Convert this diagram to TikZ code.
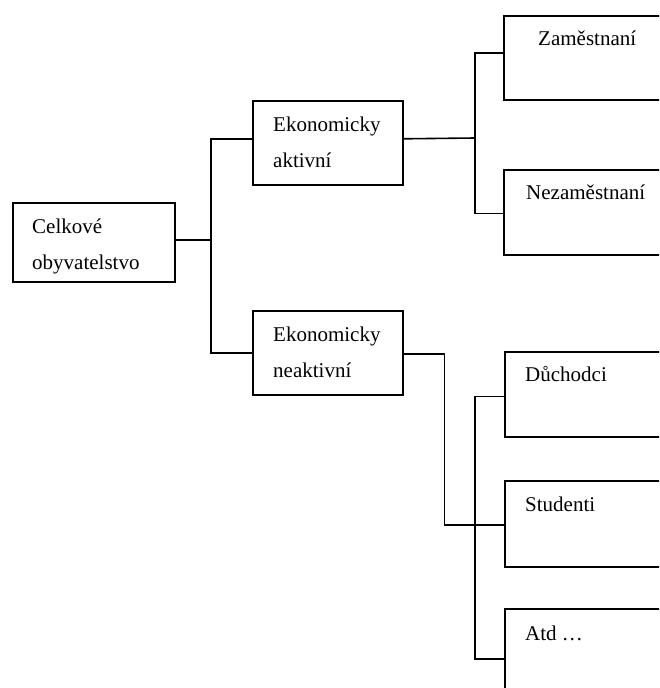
\documentclass[tikz,border=0pt]{standalone}
\usepackage{fontspec}
\setmainfont{Liberation Serif}
\usetikzlibrary{positioning}
\tikzset{
  box/.style={draw, line width=1.6pt, anchor=north west, inner sep=0pt},
  txt/.style={anchor=base west, inner sep=0pt, align=left, font=\fontsize{21}{36}\selectfont},
  conn/.style={line width=1.6pt}
}
\begin{document}
\begin{tikzpicture}[x=1pt,y=-1pt]
\useasboundingbox (0,0) rectangle (659,688);
\clip (0,0) rectangle (659,688);
% boxes
\node[box, minimum width=162pt, minimum height=79pt] (celk) at (12,202) {};
\node[box, minimum width=150pt, minimum height=84pt] (aktiv) at (252,100) {};
\node[box, minimum width=150pt, minimum height=84pt] (neakt) at (252,310) {};
\node[box, minimum width=200pt, minimum height=84pt] (zam) at (503,15) {};
\node[box, minimum width=200pt, minimum height=85pt] (nezam) at (503,169) {};
\node[box, minimum width=200pt, minimum height=85pt] (duch) at (504,351) {};
\node[box, minimum width=200pt, minimum height=86pt] (stud) at (504,480) {};
\node[box, minimum width=200pt, minimum height=100pt] (atd) at (504,608) {};
% texts (base = last line)
\node[txt] (celk-t) at ([shift={(20,67)}]celk.north west) {Celkové\\obyvatelstvo};
\node[txt] (aktiv-t) at ([shift={(21,67)}]aktiv.north west) {Ekonomicky\\aktivní};
\node[txt] (neakt-t) at ([shift={(21,67)}]neakt.north west) {Ekonomicky\\neaktivní};
\node[txt] (zam-t) at ([shift={(35,30)}]zam.north west) {Zaměstnaní};
\node[txt] (nezam-t) at ([shift={(23,30)}]nezam.north west) {Nezaměstnaní};
\node[txt] (duch-t) at ([shift={(21,30)}]duch.north west) {Důchodci};
\node[txt] (stud-t) at ([shift={(21,31)}]stud.north west) {Studenti};
\node[txt] (atd-t) at ([shift={(21,32)}]atd.north west) {Atd \dots};
% connectors
\coordinate (j1) at (211,240);
\draw[conn] (celk.east |- j1) -- (j1);
\draw[conn] ([yshift=4pt]aktiv.west) -| (j1) |- (neakt.west);
\coordinate (j2) at (475,138);
\draw[conn] ([yshift=4pt]aktiv.east) -- (j2);
\draw[conn] ([yshift=5pt]zam.west) -| (j2) |- ([yshift=-1pt]nezam.west);
\draw[conn] ([yshift=-1pt]neakt.east) -- ++(41,0) |- ([yshift=-1pt]stud.west);
\draw[conn] ([yshift=-2pt]duch.west) -- ++(-29,0) |- (atd.west);
\end{tikzpicture}
\end{document}
